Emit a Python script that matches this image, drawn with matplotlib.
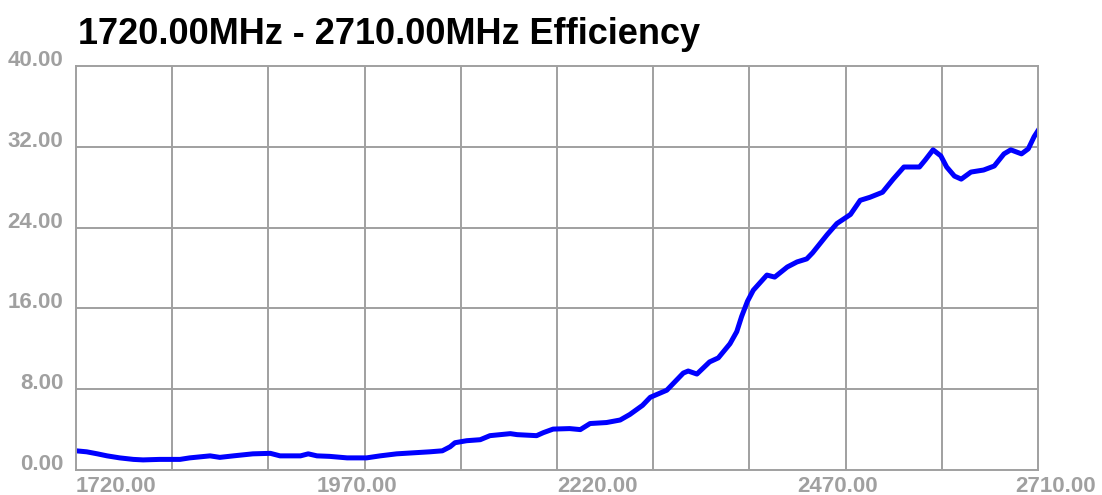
import matplotlib
matplotlib.use("Agg")
import matplotlib.pyplot as plt
import matplotlib.transforms as mtransforms

plt.rcParams['font.family'] = ['Liberation Sans', 'DejaVu Sans']

# frequency (MHz) and efficiency values
freq = [1720, 1731, 1742, 1752, 1765, 1779, 1789, 1806, 1827, 1837, 1858, 1868,
        1882, 1902, 1920, 1930, 1951, 1959, 1968, 1981, 1999, 2019, 2033, 2050,
        2084, 2097, 2105, 2110, 2122, 2136, 2146, 2167, 2174, 2194, 2201, 2211,
        2228, 2239, 2249, 2266, 2280, 2290, 2303, 2311, 2328, 2345, 2350, 2359,
        2372, 2381, 2393, 2400, 2405, 2411, 2417, 2431, 2439, 2452, 2462, 2472,
        2478, 2493, 2503, 2517, 2527, 2537, 2550, 2561, 2572, 2588, 2594, 2602,
        2610, 2616, 2624, 2631, 2641, 2654, 2665, 2675, 2682, 2693, 2700, 2706,
        2710]
eff = [1.9, 1.8, 1.6, 1.4, 1.2, 1.05, 1.0, 1.05, 1.05, 1.2, 1.4, 1.25,
       1.4, 1.6, 1.65, 1.4, 1.4, 1.6, 1.4, 1.35, 1.2, 1.2, 1.4, 1.6,
       1.8, 1.9, 2.3, 2.7, 2.9, 3.0, 3.4, 3.6, 3.5, 3.4, 3.7, 4.05,
       4.1, 4.0, 4.6, 4.7, 4.95, 5.5, 6.4, 7.2, 7.9, 9.6, 9.8, 9.5,
       10.7, 11.1, 12.5, 13.7, 15.2, 16.7, 17.8, 19.3, 19.1, 20.1, 20.6, 20.9,
       21.5, 23.3, 24.4, 25.3, 26.7, 27.0, 27.5, 28.8, 30.0, 30.0, 30.7, 31.7,
       31.1, 30.0, 29.1, 28.8, 29.5, 29.7, 30.1, 31.3, 31.7, 31.3, 31.8, 33.0,
       33.6]

xtick_pos = [1720, 1967.5, 2215, 2462.5, 2710]
xtick_lab = ["1720.00", "1970.00", "2220.00", "2470.00", "2710.00"]
ytick_pos = [0, 8, 16, 24, 32, 40]
ytick_lab = ["0.00", "8.00", "16.00", "24.00", "32.00", "40.00"]

grey = "#a0a0a0"

fig = plt.figure(figsize=(11.02, 4.95), dpi=100)
ax = fig.add_axes([76 / 1102, 25 / 495, 962 / 1102, 404 / 495])

ax.plot(freq, eff, color="#0000ff", lw=3.6, solid_joinstyle="round")

ax.set_xlim(1720, 2710)
ax.set_ylim(0, 40)

# grid: 10 vertical divisions, 5 horizontal
for i in range(1, 10):
    ax.axvline(1720 + i * 99, color=grey, lw=1.4, zorder=0)
for v in ytick_pos[1:-1]:
    ax.axhline(v, color=grey, lw=1.4, zorder=0)
for s in ax.spines.values():
    s.set_color(grey)
    s.set_linewidth(1.4)

ax.set_xticks(xtick_pos)
ax.set_xticklabels(xtick_lab)
ax.set_yticks(ytick_pos)
ax.set_yticklabels(ytick_lab)
ax.tick_params(length=0, colors=grey, labelsize=16)
ax.tick_params(axis="x", pad=4)
ax.tick_params(axis="y", pad=9)
for lab in ax.get_xticklabels():
    lab.set_fontweight("bold")
    lab.set_horizontalalignment("left")
for lab in ax.get_yticklabels():
    lab.set_fontweight("bold")
    lab.set_verticalalignment("baseline")
last = ax.get_xticklabels()[-1]
last.set_transform(last.get_transform() + mtransforms.ScaledTranslation(-23 / 100, 0, fig.dpi_scale_trans))

fig.text(78 / 1102, 1 - 44 / 495, "1720.00MHz - 2710.00MHz Efficiency",
         fontsize=26, fontweight="bold", color="black", ha="left", va="baseline")

fig.savefig("out.png", dpi=100)
